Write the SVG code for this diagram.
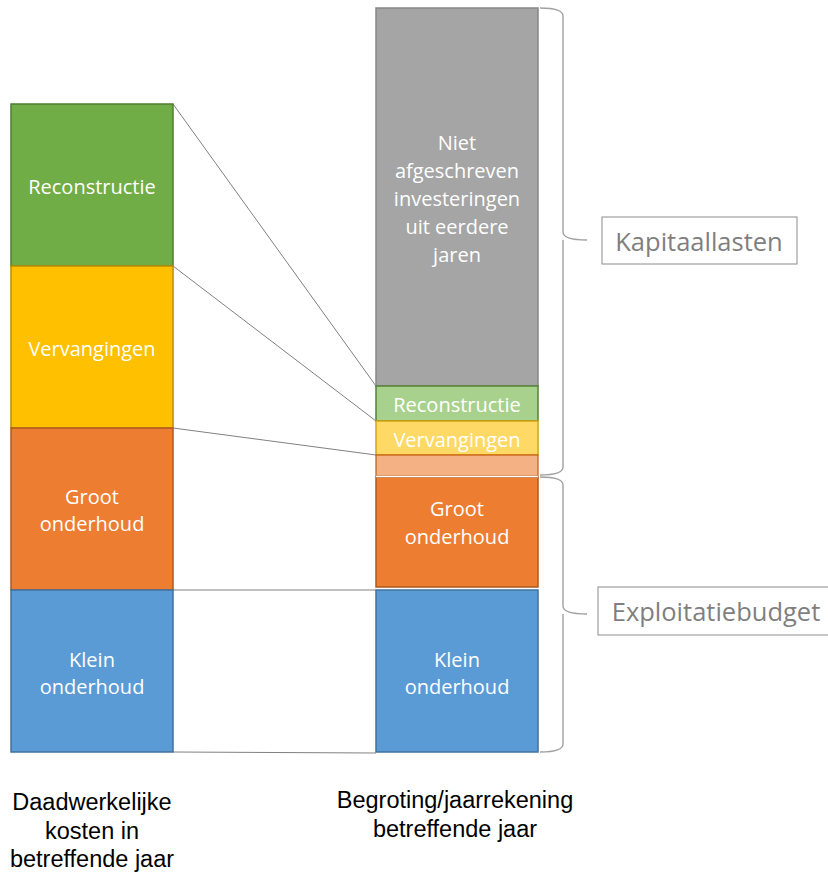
<svg xmlns="http://www.w3.org/2000/svg" width="828" height="872" viewBox="0 0 828 872">
<style>
.w{fill:#fff;font-family:"Open Sans","Noto Sans",sans-serif;font-size:20px;text-anchor:middle;dominant-baseline:central}
.b{fill:#000;font-family:"Liberation Sans",Arial,sans-serif;font-size:23.5px;text-anchor:middle}
.g{fill:#7f7f7f;font-family:"Open Sans","Noto Sans",sans-serif;font-size:25.5px;text-anchor:middle;dominant-baseline:central}
.c{stroke:#808080;stroke-width:1;fill:none}
.box{fill:#fff;stroke:#8c8c8c;stroke-width:1}
.br{stroke:#a0a0a0;stroke-width:1.4;fill:none}
</style>
<rect width="828" height="872" fill="#fff"/>
<g id="connectors">
<line class="c" x1="173" y1="104" x2="376" y2="386"/>
<line class="c" x1="173" y1="266" x2="376" y2="421"/>
<line class="c" x1="173" y1="428" x2="376" y2="455"/>
<line class="c" x1="173" y1="590" x2="376" y2="590"/>
<line class="c" x1="173" y1="752" x2="376" y2="753"/>
</g>
<g id="left-reconstructie"><rect x="11" y="104" width="162" height="162" fill="#70ad47" stroke="#507e32" stroke-width="1.5"/><text class="w" x="92" y="186">Reconstructie</text></g>
<g id="left-vervangingen"><rect x="11" y="266" width="162" height="162" fill="#ffc000" stroke="#bc8c00" stroke-width="1.5"/><text class="w" x="92" y="348">Vervangingen</text></g>
<g id="left-groot"><rect x="11" y="428" width="162" height="162" fill="#ed7d31" stroke="#ae5a21" stroke-width="1.5"/><text class="w" x="92" y="496">Groot</text><text class="w" x="92" y="523">onderhoud</text></g>
<g id="left-klein"><rect x="11" y="590" width="162" height="162" fill="#5b9bd5" stroke="#41719c" stroke-width="1.5"/><text class="w" x="92" y="659">Klein</text><text class="w" x="92" y="686">onderhoud</text></g>
<g id="right-niet"><rect x="376" y="8" width="162" height="378" fill="#a5a5a5" stroke="#878787" stroke-width="1.5"/><text class="w" x="457" y="142">Niet</text><text class="w" x="457" y="170">afgeschreven</text><text class="w" x="457" y="198">investeringen</text><text class="w" x="457" y="226">uit eerdere</text><text class="w" x="457" y="254">jaren</text></g>
<g id="right-reconstructie"><rect x="376" y="386" width="162" height="35" fill="#a9d18e" stroke="#548235" stroke-width="1.5"/><text class="w" x="457" y="404">Reconstructie</text></g>
<g id="right-vervangingen"><rect x="376" y="421" width="162" height="34" fill="#ffd966" stroke="#d6a40d" stroke-width="1.5"/><text class="w" x="457" y="439">Vervangingen</text></g>
<g id="right-groot-deel"><rect x="376" y="455" width="162" height="21" fill="#f4b183" stroke="#c55a11" stroke-width="1.2"/></g>
<g id="right-groot"><rect x="376" y="477" width="162" height="110" fill="#ed7d31" stroke="#ae5a21" stroke-width="1.5"/><line x1="376" y1="476.5" x2="538" y2="476.5" stroke="#fff" stroke-width="1.5"/><text class="w" x="457" y="508">Groot</text><text class="w" x="457" y="536">onderhoud</text></g>
<g id="right-klein"><rect x="376" y="590" width="162" height="162" fill="#5b9bd5" stroke="#41719c" stroke-width="1.5"/><text class="w" x="457" y="659">Klein</text><text class="w" x="457" y="686">onderhoud</text></g>
<g id="brace-kapitaal"><path class="br" d="M540,8 Q563,8 563,16 L563,232 Q563,240 587,240 M563,240 Q563,248 563,248 L563,467 Q563,475 540,475"/></g>
<g id="brace-exploitatie"><path class="br" d="M540,477 Q563,477 563,485 L563,606 Q563,614 587,614 M563,614 Q563,622 563,622 L563,744 Q563,752 540,752"/></g>
<g id="label-kapitaal"><rect class="box" x="602" y="217" width="195" height="47"/><text class="g" x="699" y="241">Kapitaallasten</text></g>
<g id="label-exploitatie"><rect class="box" x="598" y="587" width="235" height="48"/><text class="g" x="716" y="611">Exploitatiebudget</text></g>
<g id="caption-left"><text class="b" x="92" y="810">Daadwerkelijke<tspan x="92" dy="28.5">kosten in</tspan><tspan x="92" dy="28.5">betreffende jaar</tspan></text></g>
<g id="caption-right"><text class="b" x="455" y="808">Begroting/jaarrekening<tspan x="455" dy="29">betreffende jaar</tspan></text></g>
</svg>
